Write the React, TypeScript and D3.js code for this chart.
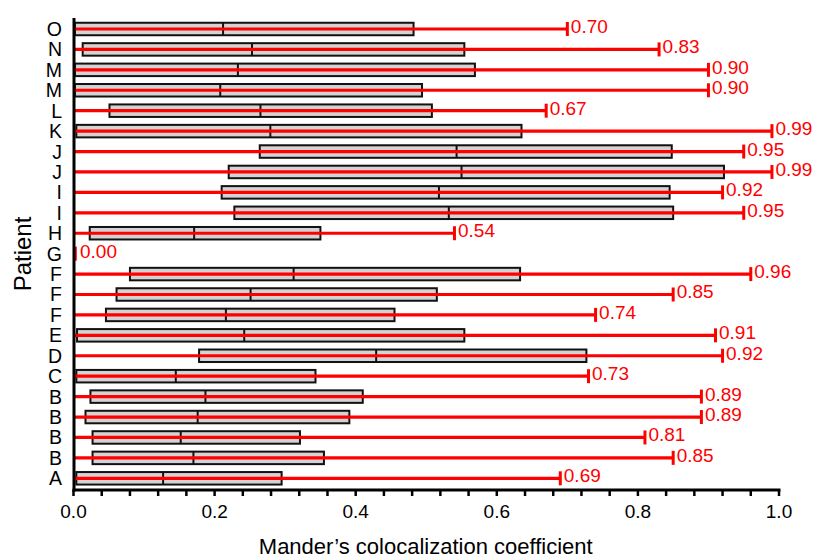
import React from "react";
import * as d3 from "d3";

// Rows from bottom (A) to top (O)
const patients = ["A", "B", "B", "B", "B", "C", "D", "E", "F", "F", "F", "G", "H", "I", "I", "J", "J", "K", "L", "M", "M", "N", "O"];
const q1Values = [0.004, 0.027, 0.027, 0.017, 0.024, 0.004, 0.178, 0.005, 0.046, 0.061, 0.080, null, 0.023, 0.228, 0.210, 0.220, 0.264, 0.004, 0.051, 0.002, 0.002, 0.013, 0.002];
const medianValues = [0.127, 0.170, 0.152, 0.176, 0.187, 0.145, 0.429, 0.242, 0.216, 0.251, 0.312, null, 0.171, 0.532, 0.518, 0.550, 0.543, 0.279, 0.265, 0.208, 0.233, 0.253, 0.212];
const q3Values = [0.295, 0.355, 0.321, 0.391, 0.410, 0.343, 0.727, 0.554, 0.455, 0.515, 0.633, null, 0.350, 0.850, 0.845, 0.922, 0.848, 0.635, 0.508, 0.494, 0.569, 0.554, 0.482];
const maxValues = [0.69, 0.85, 0.81, 0.89, 0.89, 0.73, 0.92, 0.91, 0.74, 0.85, 0.96, 0.0, 0.54, 0.95, 0.92, 0.99, 0.95, 0.99, 0.67, 0.90, 0.90, 0.83, 0.70];
const xTickValues = [0, 0.2, 0.4, 0.6, 0.8, 1.0];
const xMinorStep = 0.04;
const xTitle = "Mander\u2019s colocalization coefficient";
const yTitle = "Patient";

const W = 815;
const H = 557;
const plotLeft = 73.5;
const plotRight = 779;
const plotTop = 18;
const plotBottom = 490;
const FONT = "'Liberation Sans', Arial, Helvetica, sans-serif";
const RED = "#ff0000";

export default function App() {
  const x = d3.scaleLinear().domain([0, 1]).range([plotLeft, plotRight]);
  const idx = patients.map((_, i) => i);
  const y = d3.scalePoint<number>().domain(idx).range([plotBottom - 11.7, plotTop + 11]);
  const boxH = 12.5;
  const capH = 14;
  const minorTicks = d3.range(0, 1 + 1e-9, xMinorStep);

  return (
    <svg width={W} height={H} style={{ position: "absolute", left: 0, top: 0, display: "block" }}>
      <rect x={0} y={0} width={W} height={H} fill="#fff" />
      {/* boxes */}
      {idx.map((i) => {
        const q1 = q1Values[i];
        const q3 = q3Values[i];
        const med = medianValues[i];
        if (q1 == null || q3 == null || med == null) return null;
        const cy = y(i)!;
        return (
          <g key={"b" + i}>
            <rect x={x(q1)} y={cy - boxH / 2} width={x(q3) - x(q1)} height={boxH} fill="#d3d3d3" stroke="#111" strokeWidth={2} />
            <line x1={x(med)} x2={x(med)} y1={cy - boxH / 2} y2={cy + boxH / 2} stroke="#111" strokeWidth={2} />
          </g>
        );
      })}
      {/* red whiskers */}
      {idx.map((i) => {
        const cy = y(i)!;
        const mx = maxValues[i];
        const xe = x(mx);
        return (
          <g key={"r" + i}>
            {mx > 0 && <line x1={x(0)} x2={xe} y1={cy} y2={cy} stroke={RED} strokeWidth={3.2} />}
            <line x1={mx > 0 ? xe : xe + 1.8} x2={mx > 0 ? xe : xe + 1.8} y1={cy - capH / 2} y2={cy + capH / 2} stroke={RED} strokeWidth={3} />
            <text x={xe + (mx > 0 ? 3.5 : 6.5)} y={cy - 2.5} dominantBaseline="central" fill={RED} fontFamily={FONT} fontSize={19}>
              {mx.toFixed(2)}
            </text>
          </g>
        );
      })}
      {/* axes */}
      <line x1={plotLeft + 0.5} x2={plotLeft + 0.5} y1={plotTop} y2={plotBottom + 1.5} stroke="#000" strokeWidth={3} />
      <line x1={plotLeft - 1} x2={plotRight + 1.5} y1={plotBottom} y2={plotBottom} stroke="#000" strokeWidth={3} />
      {minorTicks.map((t, k) => (
        <line key={"t" + k} x1={x(t)} x2={x(t)} y1={plotBottom} y2={plotBottom + 6} stroke="#000" strokeWidth={2.5} />
      ))}
      {xTickValues.map((t) => (
        <text key={"xl" + t} x={x(t)} y={plotBottom + 21} textAnchor="middle" dominantBaseline="central" fontFamily={FONT} fontSize={19} fill="#000">
          {t.toFixed(1)}
        </text>
      ))}
      {idx.map((i) => (
        <text key={"yl" + i} x={62} y={y(i)!} textAnchor="end" dominantBaseline="central" fontFamily={FONT} fontSize={19.5} fill="#000">
          {patients[i]}
        </text>
      ))}
      <text x={(plotLeft + plotRight) / 2 - 0.5} y={546} textAnchor="middle" dominantBaseline="central" fontFamily={FONT} fontSize={22} fill="#000">
        {xTitle}
      </text>
      <text transform={`translate(22, ${(plotTop + plotBottom) / 2}) rotate(-90)`} textAnchor="middle" dominantBaseline="central" fontFamily={FONT} fontSize={24} fill="#000">
        {yTitle}
      </text>
    </svg>
  );
}
